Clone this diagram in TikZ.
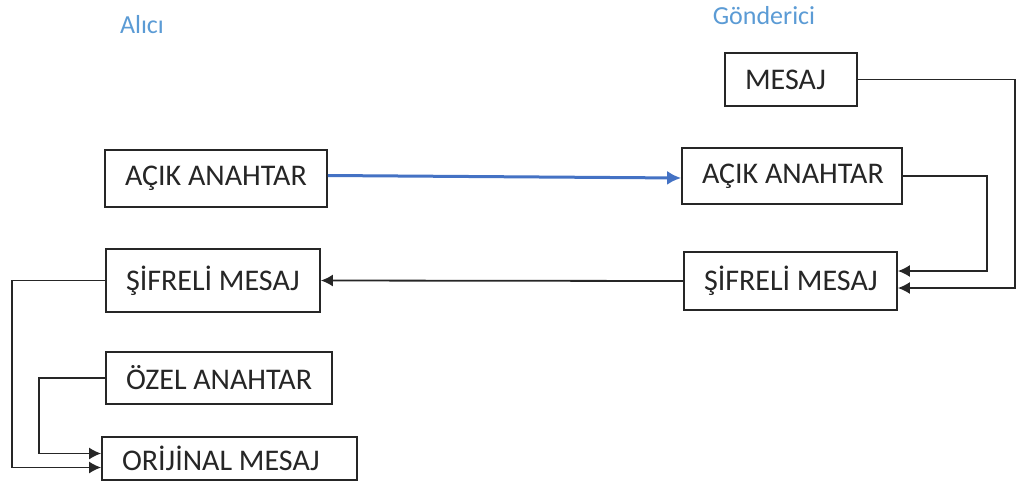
\documentclass[tikz,border=0pt]{standalone}
\usepackage{fontspec}
\setmainfont{Carlito}
\usetikzlibrary{arrows.meta}
\definecolor{hdrblue}{HTML}{5B9BD5}
\definecolor{keyblue}{HTML}{4472C4}
\begin{document}
\begin{tikzpicture}[x=1pt,y=-1pt,
  box/.style={draw=black!85, line width=1.7pt, inner xsep=20pt, inner ysep=0pt,
              font=\fontsize{30}{36}\selectfont, text=black!85},
  hdr/.style={text=hdrblue, font=\fontsize{26}{31}\selectfont, anchor=base, inner sep=0pt},
  conn/.style={draw=black!85, line width=1.8pt},
  arr/.style={-{Latex[length=12pt,width=12pt]}},
  ]
\useasboundingbox[fill=white] (0,0) rectangle (1017,485);

% sender side
\node[box, minimum width=132pt, minimum height=53pt] (msg) at (791,79.5) {\makebox[92pt][l]{MESAJ}};
\node[box, minimum width=220pt, minimum height=56pt] (pubS) at (792,176) {\makebox[180pt][l]{AÇIK ANAHTAR}};
\node[box, minimum width=213pt, minimum height=58pt] (encS) at (790.5,281) {\makebox[173pt][l]{ŞİFRELİ MESAJ}};

% receiver side
\node[box, minimum width=222pt, minimum height=57pt] (pubR) at (216,178.5) {\makebox[182pt][l]{AÇIK ANAHTAR}};
\node[box, minimum width=214pt, minimum height=63pt] (encR) at (213,280.5) {\makebox[174pt][l]{ŞİFRELİ MESAJ}};
\node[box, minimum width=226pt, minimum height=52pt] (privR) at (219,378) {\makebox[186pt][l]{ÖZEL ANAHTAR}};
\node[box, minimum width=255pt, minimum height=43pt] (origR) at (229.5,458.5) {\makebox[215pt][l]{ORİJİNAL MESAJ}};

% column headings
\node[hdr] (recv) at (142,33) {Alıcı};
\node[hdr] (send) at (764,24) {Gönderici};

% public key travels to the sender
\draw[keyblue, line width=3pt, -{Latex[length=14pt,width=14pt]}]
  ([yshift=3pt]pubR.east) -- ([yshift=-2pt]pubS.west);

% encryption at the sender
\draw[conn, arr] (pubS.east) -- ++(84,0) |- ([yshift=10pt]encS.east);
\draw[conn, arr] (msg.east) -- ++(157,0) |- ([yshift=-7pt]encS.east);

% ciphertext goes back to the receiver
\draw[conn, arr] (encS.west) -- (encR.east);

% decryption at the receiver
\draw[conn, arr] (encR.west) -- ++(-93,0) |- ([yshift=-9pt]origR.west);
\draw[conn, arr] (privR.west) -- ++(-66,0) |- ([yshift=5pt]origR.west);
\end{tikzpicture}
\end{document}
